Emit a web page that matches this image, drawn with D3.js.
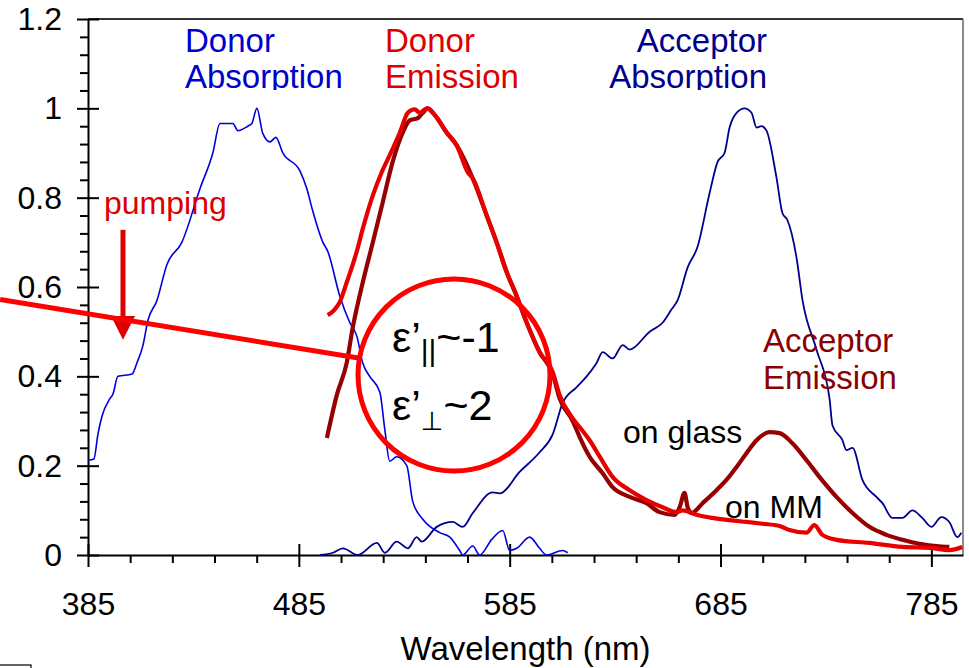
<!DOCTYPE html>
<html>
<head>
<meta charset="utf-8">
<script src="https://cdn.jsdelivr.net/npm/d3@7"></script>
<style>
  body { margin: 0; background: #fff; }
  svg { display: block; font-family: "Liberation Sans", Arial, sans-serif; }
</style>
</head>
<body>
<div id="chart"></div>
<script>
/* Spectra: [wavelength nm, normalised intensity] */
const donorAbsorption = [
  [385,0.212],[387.8,0.215],[389.7,0.27],[391.6,0.31],[395.4,0.35],[396.8,0.36],
  [399.2,0.40],[405.9,0.405],[408.2,0.43],[411.1,0.47],[413.4,0.525],[417.7,0.57],
  [422.4,0.65],[429.5,0.70],[438.1,0.82],[444.2,0.90],[447.6,0.966],[453.7,0.966],
  [456.1,0.95],[460.8,0.96],[462.7,0.966],[465.1,1.0],[467.9,0.944],[471.3,0.925],
  [474.1,0.935],[477.4,0.90],[485.5,0.86],[488.8,0.82],[491.6,0.77],[496.4,0.70],
  [498.7,0.68],[504.4,0.58],[509.2,0.52],[512.5,0.49],[515.3,0.43],[518.6,0.40],
  [523.4,0.365],[525.8,0.28],[528.1,0.21],[531.4,0.22],[536.2,0.20],[539.0,0.12],
  [543.8,0.08],[551.8,0.05],[556.6,0.04],[561.3,0.01],[562.7,0.0],[567.5,0.02],
  [570.8,0.0],[576.5,0.035],[581.7,0.055],[585.0,0.01],[588.3,0.015],[594.5,0.04],
  [599.2,0.015],[602.5,0.0],[610.1,0.01],[612.5,0.005]
];

const acceptorAbsorption = [
  [495.0,0.0],[501.1,0.005],[505.9,0.015],[513.0,0.0],[522.0,0.027],[525.8,0.005],
  [531.4,0.03],[536.7,0.015],[540.9,0.04],[543.3,0.03],[550.4,0.063],[558.0,0.074],
  [562.7,0.063],[567.5,0.094],[576.9,0.14],[580.3,0.138],[589.7,0.186],[599.2,0.23],
  [605.4,0.27],[610.1,0.34],[616.8,0.376],[621.5,0.40],[626.2,0.43],[629.1,0.454],
  [633.8,0.44],[638.6,0.47],[641.9,0.46],[651.4,0.50],[657.5,0.52],[661.8,0.55],
  [664.6,0.57],[669.4,0.644],[674.1,0.69],[679.8,0.81],[683.6,0.88],[686.9,0.90],
  [689.3,0.957],[692.6,0.99],[696.4,1.0],[699.7,0.99],[702.1,0.957],[704.4,0.96],
  [706.8,0.95],[711.5,0.846],[714.4,0.765],[716.7,0.75],[721.0,0.667],[723.9,0.57],
  [730.5,0.46],[736.7,0.35],[738.1,0.29],[742.8,0.257],[744.7,0.235],[747.6,0.24],
  [752.3,0.168],[758.9,0.13],[761.8,0.116],[766.5,0.083],[771.3,0.083],[776.0,0.10],
  [780.7,0.083],[785.0,0.063],[789.7,0.085],[793.5,0.074],[797.3,0.04],[799.2,0.05]
];

const emissionGlass = [
  [498.3,0.262],[503.0,0.358],[507.7,0.43],[510.6,0.51],[515.3,0.61],[520.1,0.70],
  [524.8,0.79],[529.5,0.88],[534.3,0.946],[537.6,0.973],[541.4,0.978],[543.8,0.99],
  [546.1,1.0],[549.5,0.985],[555.1,0.946],[559.9,0.917],[567.5,0.843],[574.1,0.76],
  [578.8,0.70],[583.6,0.633],[588.3,0.58],[593.1,0.52],[599.2,0.454],[605.4,0.405],
  [608.7,0.35],[614.9,0.30],[618.2,0.264],[622.9,0.22],[629.1,0.183],[633.8,0.152],
  [641.9,0.13],[649.9,0.116],[656.1,0.096],[663.2,0.09],[665.6,0.107],[667.9,0.139],
  [669.4,0.107],[671.3,0.094],[676.5,0.116],[683.1,0.145],[687.8,0.168],[692.6,0.197],
  [697.3,0.228],[702.1,0.257],[708.2,0.275],[713.0,0.273],[719.1,0.25],[725.8,0.212],
  [731.9,0.175],[740.0,0.13],[747.6,0.094],[755.6,0.063],[763.7,0.045],[771.3,0.034],
  [779.3,0.025],[787.4,0.02],[793.5,0.018]
];

const emissionMM = [
  [498.7,0.537],[502.1,0.55],[504.4,0.566],[507.7,0.61],[512.5,0.68],[515.3,0.73],
  [520.1,0.805],[524.3,0.857],[528.1,0.895],[532.9,0.946],[536.7,0.99],[540.0,0.998],
  [542.3,0.99],[545.7,1.0],[549.5,0.985],[555.1,0.946],[559.9,0.917],[565.1,0.857],
  [567.5,0.843],[574.1,0.76],[578.8,0.70],[583.6,0.633],[588.3,0.58],[593.1,0.52],
  [599.2,0.454],[605.4,0.41],[608.7,0.358],[614.9,0.306],[618.2,0.286],[622.9,0.257],
  [627.7,0.22],[633.8,0.175],[641.9,0.145],[649.9,0.123],[657.5,0.107],[664.1,0.096],
  [667.0,0.10],[673.6,0.09],[681.2,0.083],[689.3,0.078],[697.3,0.074],[704.9,0.07],
  [713.0,0.065],[717.7,0.056],[725.8,0.05],[729.5,0.067],[733.3,0.045],[740.0,0.034],
  [755.6,0.027],[771.3,0.018],[784.0,0.016],[793.5,0.011],[799.7,0.018]
];

const xMajorTicks = [385, 485, 585, 685, 785];
const yMajorTicks = [0, 0.2, 0.4, 0.6, 0.8, 1, 1.2];
const yTickLabels = ['0', '0.2', '0.4', '0.6', '0.8', '1', '1.2'];

const W = 969, H = 668;
const M = { top: 19, right: 6, bottom: 113, left: 88 };
const iw = W - M.left - M.right;
const ih = H - M.top - M.bottom;

const svg = d3.select('#chart').append('svg')
  .attr('width', W).attr('height', H);

const x = d3.scaleLinear().domain([385, 800]).range([M.left, M.left + iw]);
const y = d3.scaleLinear().domain([0, 1.2]).range([M.top + ih, M.top]);

/* frame: top and right borders */
svg.append('line')
  .attr('x1', M.left).attr('x2', M.left + iw)
  .attr('y1', M.top).attr('y2', M.top)
  .attr('stroke', '#333').attr('stroke-width', 2);
svg.append('line')
  .attr('x1', M.left + iw).attr('x2', M.left + iw)
  .attr('y1', M.top).attr('y2', M.top + ih)
  .attr('stroke', '#666').attr('stroke-width', 1.5);

/* minor ticks */
const xMinor = d3.range(385, 800, 20).filter(v => !xMajorTicks.includes(v));
const yMinor = d3.range(0, 1.2001, 0.04).filter(v => Math.abs((v / 0.2) - Math.round(v / 0.2)) > 1e-6);

svg.append('g')
  .attr('transform', `translate(0,${M.top + ih})`)
  .call(d3.axisBottom(x).tickValues(xMinor).tickSize(8).tickFormat(''))
  .call(g => g.select('.domain').remove())
  .selectAll('line').attr('stroke', '#000').attr('stroke-width', 2);

svg.append('g')
  .attr('transform', `translate(${M.left},0)`)
  .call(d3.axisLeft(y).tickValues(yMinor).tickSize(8).tickFormat(''))
  .call(g => g.select('.domain').remove())
  .selectAll('line').attr('stroke', '#000').attr('stroke-width', 2);

/* major axes */
const gx = svg.append('g')
  .attr('transform', `translate(0,${M.top + ih})`)
  .call(d3.axisBottom(x).tickValues(xMajorTicks).tickSizeOuter(0).tickFormat(d3.format('d')));
gx.select('.domain').attr('stroke', '#000').attr('stroke-width', 2);
gx.selectAll('.tick line').attr('y1', -11).attr('y2', 12)
  .attr('stroke', '#000').attr('stroke-width', 2);
gx.selectAll('.tick text').attr('y', 60).attr('dy', 0)
  .attr('font-size', 32).attr('fill', '#000')
  .attr('font-family', '"Liberation Sans", Arial, sans-serif');

const gy = svg.append('g')
  .attr('transform', `translate(${M.left},0)`)
  .call(d3.axisLeft(y).tickValues(yMajorTicks).tickSizeOuter(0)
    .tickFormat((d, i) => yTickLabels[i]));
gy.select('.domain').attr('stroke', '#000').attr('stroke-width', 2);
gy.selectAll('.tick line').attr('x1', -11).attr('x2', 11)
  .attr('stroke', '#000').attr('stroke-width', 2);
gy.selectAll('.tick text').attr('x', -26).attr('dy', '0.33em')
  .attr('font-size', 32).attr('fill', '#000')
  .attr('font-family', '"Liberation Sans", Arial, sans-serif');

svg.append('text')
  .attr('x', x(592.5)).attr('y', 660)
  .attr('text-anchor', 'middle')
  .attr('font-size', 33)
  .text('Wavelength (nm)');

/* spectra */
const line = d3.line()
  .x(d => x(d[0])).y(d => y(d[1]))
  .curve(d3.curveMonotoneX);

svg.append('path').datum(donorAbsorption)
  .attr('d', line).attr('fill', 'none')
  .attr('stroke', '#0000dd').attr('stroke-width', 1.6);
svg.append('path').datum(acceptorAbsorption)
  .attr('d', line).attr('fill', 'none')
  .attr('stroke', '#00008f').attr('stroke-width', 1.8);
svg.append('path').datum(emissionGlass)
  .attr('d', line).attr('fill', 'none')
  .attr('stroke', '#960000').attr('stroke-width', 4.2)
  .attr('stroke-linejoin', 'round');
svg.append('path').datum(emissionMM)
  .attr('d', line).attr('fill', 'none')
  .attr('stroke', '#e80000').attr('stroke-width', 4.2)
  .attr('stroke-linejoin', 'round');

/* labels (second line of the top ones is clipped like in the source) */
svg.append('clipPath').attr('id', 'topclip')
  .append('rect').attr('x', 0).attr('y', 0).attr('width', W).attr('height', 90);

const labels = svg.append('g').attr('font-size', 33).attr('clip-path', 'url(#topclip)');
function twoLines(g, xPos, y1, y2, t1, t2, color, anchor) {
  g.append('text').attr('x', xPos).attr('y', y1).attr('fill', color)
    .attr('text-anchor', anchor).text(t1);
  g.append('text').attr('x', xPos).attr('y', y2).attr('fill', color)
    .attr('text-anchor', anchor).text(t2);
}
twoLines(labels, 185, 52, 88, 'Donor', 'Absorption', '#0000cc', 'start');
twoLines(labels, 385, 52, 88, 'Donor', 'Emission', '#dd0000', 'start');
twoLines(labels, 767, 52, 88, 'Acceptor', 'Absorption', '#00008b', 'end');

const lab2 = svg.append('g').attr('font-size', 33);
twoLines(lab2, 763, 352, 389, 'Acceptor', 'Emission', '#8b0000', 'start');
lab2.append('text').attr('x', 623).attr('y', 443).attr('font-size', 32).text('on glass');
lab2.append('text').attr('x', 725).attr('y', 518).attr('font-size', 32).text('on MM');
lab2.append('text').attr('x', 104).attr('y', 214).attr('font-size', 32)
  .attr('fill', '#dd0000').text('pumping');

/* pumping arrow */
const ax = x(401.6);
svg.append('line')
  .attr('x1', ax).attr('x2', ax)
  .attr('y1', y(0.728)).attr('y2', y(0.535))
  .attr('stroke', '#dd0000').attr('stroke-width', 5);
svg.append('path')
  .attr('d', `M${ax - 12},${y(0.535)} L${ax + 12},${y(0.535)} L${ax},${y(0.482)} Z`)
  .attr('fill', '#dd0000');

/* dielectric annotation: pointer line and circle */
svg.append('line')
  .attr('x1', x(343.3)).attr('y1', y(0.572))
  .attr('x2', x(513.3)).attr('y2', y(0.441))
  .attr('stroke', '#ff0000').attr('stroke-width', 5);
svg.append('circle')
  .attr('cx', x(558.6)).attr('cy', y(0.403)).attr('r', 96)
  .attr('fill', 'none').attr('stroke', '#ff0000').attr('stroke-width', 5);

const eps = svg.append('g').attr('font-size', 43).attr('fill', '#000');
const e1 = eps.append('text').attr('x', 392).attr('y', 352);
e1.append('tspan').text('ε’');
e1.append('tspan').attr('font-size', 30).attr('dy', 9).text('||');
e1.append('tspan').attr('dy', -9).text('~-1');
const e2 = eps.append('text').attr('x', 392).attr('y', 420);
e2.append('tspan').text('ε’');
e2.append('tspan').attr('font-size', 26).attr('dy', 10)
  .attr('font-family', '"DejaVu Sans", sans-serif').text('⊥');
e2.append('tspan').attr('dy', -10).text('~2');

/* stray box edge at the bottom-left corner */
svg.append('rect')
  .attr('x', -2).attr('y', 665).attr('width', 33).attr('height', 20)
  .attr('fill', 'none').attr('stroke', '#000').attr('stroke-width', 1.2);
</script>
</body>
</html>
